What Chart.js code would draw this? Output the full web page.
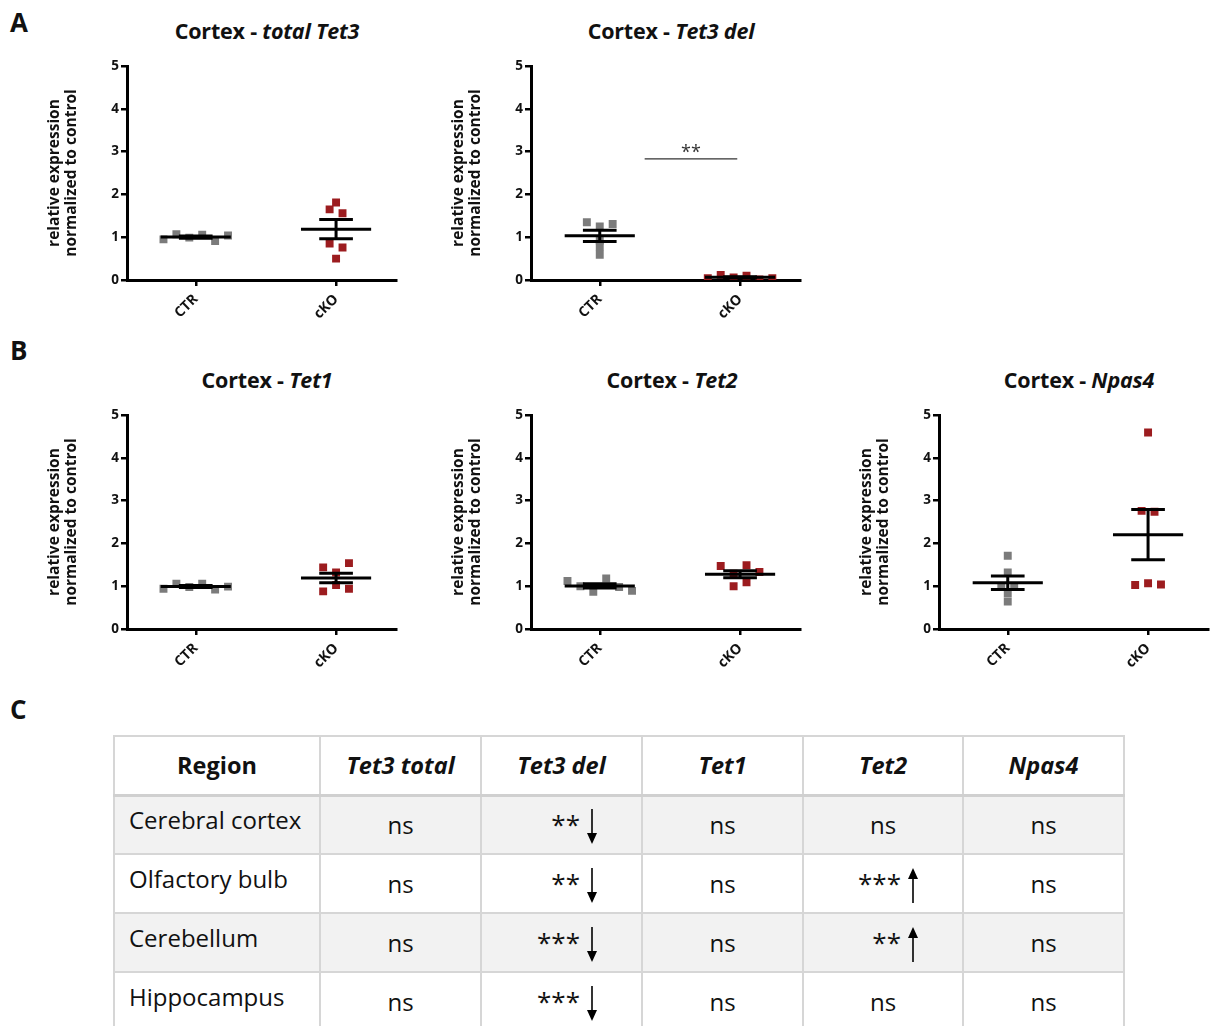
<!DOCTYPE html>
<html><head><meta charset="utf-8">
<script src="https://cdn.jsdelivr.net/npm/chart.js@4.4.1/dist/chart.umd.min.js"></script>
<style>
html,body{margin:0;padding:0;background:#fff;width:1216px;height:1026px;overflow:hidden;position:relative;font-family:"Open Sans",sans-serif;color:#111}
.panel{position:absolute;font-weight:700;font-size:26px;line-height:26px}
.ttl{position:absolute;font-weight:700;font-size:21.5px;transform:translate(-50%,-50%);white-space:nowrap;color:#111;letter-spacing:-0.2px}
.cv{position:absolute}
table{position:absolute;left:113px;top:735px;border-collapse:collapse;table-layout:fixed}
td,th{border:2px solid #d6d6d6;font-size:24px;padding:0;text-align:center;font-weight:400}
tr{height:59px}
th{font-weight:700;font-style:italic;border-bottom:3px solid #d0d0d0;font-size:23.5px}
th.reg{font-style:normal}
tr.g td{background:#f2f2f2}
td.reg{text-align:left;padding-left:14px;padding-bottom:10px}
td.sig{text-align:right;padding-right:44px}
td.sig svg{vertical-align:middle;margin-left:7px}
td.sig span{position:relative;top:1px;font-size:26px}
</style>
</head><body>
<div class="panel" style="left:10px;top:9px">A</div>
<div class="panel" style="left:10px;top:337px">B</div>
<div class="panel" style="left:10px;top:696px">C</div>

<div class="ttl" style="left:267px;top:30px">Cortex - <i>total Tet3</i></div>
<div class="ttl" style="left:671px;top:30px">Cortex - <i>Tet3 del</i></div>
<div class="ttl" style="left:267px;top:379px">Cortex - <i>Tet1</i></div>
<div class="ttl" style="left:672px;top:379px">Cortex - <i>Tet2</i></div>
<div class="ttl" style="left:1079px;top:379px">Cortex - <i>Npas4</i></div>

<canvas id="c1" class="cv" width="362" height="280" style="left:40px;top:50px"></canvas>
<canvas id="c2" class="cv" width="362" height="280" style="left:444px;top:50px"></canvas>
<canvas id="c3" class="cv" width="362" height="280" style="left:40px;top:399px"></canvas>
<canvas id="c4" class="cv" width="362" height="280" style="left:444px;top:399px"></canvas>
<canvas id="c5" class="cv" width="362" height="280" style="left:852px;top:399px"></canvas>

<table id="tbl"></table>

<script>
// ---------------- data ----------------
const categories = ['CTR', 'cKO'];
const yTickValues = [0, 1, 2, 3, 4, 5];
const yAxisTitle = ['relative expression', 'normalized to control'];

const totalTet3CTR = [0.95, 1.07, 0.99, 1.06, 0.91, 1.04];
const totalTet3cKO = [1.65, 1.81, 1.56, 0.85, 0.76, 0.50];

const tet3delCTR = [1.35, 1.25, 1.31, 0.92, 0.77, 0.59];
const tet3delcKO = [0.04, 0.12, 0.06, 0.10, 0.01, 0.04];

const tet1CTR = [0.94, 1.06, 0.98, 1.06, 0.92, 0.99];
const tet1cKO = [1.44, 1.32, 1.54, 0.88, 1.03, 0.94];

const tet2CTR = [1.12, 1.00, 0.87, 1.18, 0.98, 0.89];
const tet2cKO = [1.47, 1.29, 1.49, 1.33, 1.00, 1.09];

const npas4CTR = [1.71, 1.32, 0.99, 0.99, 0.83, 0.64];
const npas4cKO = [4.59, 2.76, 2.74, 1.03, 1.07, 1.04];

// significance bracket on the Tet3 del plot (data units)
const tet3delSig = {from: 1.32, to: 1.98, y: 2.83, label: '**'};

// table C
const tableHeader = ['Region', 'Tet3 total', 'Tet3 del', 'Tet1', 'Tet2', 'Npas4'];
const tableRegions = ['Cerebral cortex', 'Olfactory bulb', 'Cerebellum', 'Hippocampus'];
const tableCells = [
  ['ns', '** down', 'ns', 'ns', 'ns'],
  ['ns', '** down', 'ns', '*** up', 'ns'],
  ['ns', '*** down', 'ns', '** up', 'ns'],
  ['ns', '*** down', 'ns', 'ns', 'ns']
];

// ---------------- styling / helpers ----------------
const GRAY = '#7b7b7b', RED = '#9c1c1f';
const FONT = '"Open Sans", sans-serif';

function swarm(values, center, step, thr) {
  const idx = values.map((v, i) => i).sort((a, b) => values[a] - values[b]);
  const clusters = []; let cur = [idx[0]];
  for (let k = 1; k < idx.length; k++) {
    if (values[idx[k]] - values[idx[k - 1]] < thr) cur.push(idx[k]);
    else { clusters.push(cur); cur = [idx[k]]; }
  }
  clusters.push(cur);
  const xs = new Array(values.length);
  clusters.forEach(c => {
    c.sort((a, b) => a - b);
    c.forEach((i, j) => { xs[i] = center + (j - (c.length - 1) / 2) * step; });
  });
  return values.map((v, i) => ({x: xs[i], y: v}));
}
function stats(a) {
  const n = a.length, m = a.reduce((s, v) => s + v, 0) / n;
  const sd = Math.sqrt(a.reduce((s, v) => s + (v - m) ** 2, 0) / (n - 1));
  return {m, sem: sd / Math.sqrt(n)};
}
function seg(x1, y1, x2, y2, w, color) {
  return {data: [{x: x1, y: y1}, {x: x2, y: y2}], showLine: true, borderColor: color || '#000',
          borderWidth: w || 3, pointRadius: 0, order: 0, borderCapStyle: 'butt'};
}
function errorBars(values, c) {
  const s = stats(values);
  return [
    seg(c - 0.25, s.m, c + 0.25, s.m),
    seg(c - 0.12, s.m + s.sem, c + 0.12, s.m + s.sem),
    seg(c - 0.12, s.m - s.sem, c + 0.12, s.m - s.sem),
    seg(c, s.m - s.sem, c, s.m + s.sem)
  ];
}
const sigPlugin = {
  id: 'sigText',
  afterDatasetsDraw(chart, args, opts) {
    if (!opts || !opts.label) return;
    const {ctx, scales} = chart;
    const x = scales.x.getPixelForValue((opts.from + opts.to) / 2);
    const y = scales.y.getPixelForValue(opts.y);
    ctx.save();
    ctx.fillStyle = '#333';
    ctx.font = '18px ' + FONT;
    ctx.textAlign = 'center';
    ctx.textBaseline = 'alphabetic';
    ctx.fillText(opts.label, x, y - 1);
    ctx.restore();
  }
};

function makeChart(id, ctr, cko, sig) {
  const step = 0.092, thr = 0.15;
  const datasets = [
    ...errorBars(ctr, 1), ...errorBars(cko, 2),
    {data: swarm(ctr, 1, step, thr), pointStyle: 'rect', pointRadius: 5.6, pointBackgroundColor: GRAY,
     pointBorderWidth: 0, showLine: false, order: 1},
    {data: swarm(cko, 2, step, thr), pointStyle: 'rect', pointRadius: 5.6, pointBackgroundColor: RED,
     pointBorderWidth: 0, showLine: false, order: 1}
  ];
  if (sig) datasets.unshift(seg(sig.from, sig.y, sig.to, sig.y, 1.3, '#333'));
  return new Chart(document.getElementById(id), {
    type: 'scatter',
    data: {datasets},
    options: {
      responsive: false, animation: false, events: [],
      layout: {padding: {left: 0, top: 16, right: 5, bottom: 0}},
      plugins: {legend: {display: false}, tooltip: {enabled: false}, sigText: sig || {}},
      scales: {
        x: {
          type: 'linear', min: 0.51, max: 2.43,
          afterBuildTicks: s => { s.ticks = categories.map((c, i) => ({value: i + 1})); },
          afterFit: s => { s.height = 50; },
          ticks: {
            callback: v => categories[v - 1] || '',
            minRotation: 45, maxRotation: 45, autoSkip: false,
            font: {family: FONT, size: 14, weight: 'bold'}, color: '#111', padding: 5
          },
          grid: {drawOnChartArea: false, drawTicks: true, tickLength: 6, color: '#000', lineWidth: 2.5},
          border: {display: true, color: '#000', width: 3}
        },
        y: {
          min: 0, max: 5,
          afterBuildTicks: s => { s.ticks = yTickValues.map(v => ({value: v})); },
          afterFit: s => { s.width = 87; },
          ticks: {font: {family: FONT, size: 13.5, weight: 'bold'}, color: '#111', padding: 2},
          grid: {drawOnChartArea: false, drawTicks: true, tickLength: 6, color: '#000', lineWidth: 2.5},
          border: {display: true, color: '#000', width: 3},
          title: {display: true, text: yAxisTitle, color: '#111',
                  font: {family: FONT, size: 15.5, weight: 'bold', lineHeight: 1.1},
                  padding: {top: 6.5, bottom: 0}}
        }
      }
    },
    plugins: [sigPlugin]
  });
}

makeChart('c1', totalTet3CTR, totalTet3cKO);
makeChart('c2', tet3delCTR, tet3delcKO, tet3delSig);
makeChart('c3', tet1CTR, tet1cKO);
makeChart('c4', tet2CTR, tet2cKO);
makeChart('c5', npas4CTR, npas4cKO);

// ---------------- table ----------------
const colWidths = [206, 161, 161, 161, 160, 161];
function arrow(dir) {
  const p = dir === 'down'
    ? '<line x1="5" y1="0" x2="5" y2="26" stroke="#000" stroke-width="1.6"/><polygon points="0,24 10,24 5,35" fill="#000"/>'
    : '<line x1="5" y1="9" x2="5" y2="35" stroke="#000" stroke-width="1.6"/><polygon points="0,11 10,11 5,0" fill="#000"/>';
  return '<svg width="10" height="35" viewBox="0 0 10 35">' + p + '</svg>';
}
let html = '<colgroup>' + colWidths.map(w => '<col style="width:' + w + 'px">').join('') + '</colgroup>';
html += '<tr>' + tableHeader.map((h, i) => '<th' + (i === 0 ? ' class="reg"' : '') + '>' + h + '</th>').join('') + '</tr>';
tableRegions.forEach((r, ri) => {
  html += '<tr' + (ri % 2 === 0 ? ' class="g"' : '') + '><td class="reg">' + r + '</td>';
  tableCells[ri].forEach(c => {
    if (c === 'ns') html += '<td>ns</td>';
    else {
      const [stars, dir] = c.split(' ');
      html += '<td class="sig"><span>' + stars + '</span>' + arrow(dir) + '</td>';
    }
  });
  html += '</tr>';
});
document.getElementById('tbl').innerHTML = html;
</script>
</body></html>
